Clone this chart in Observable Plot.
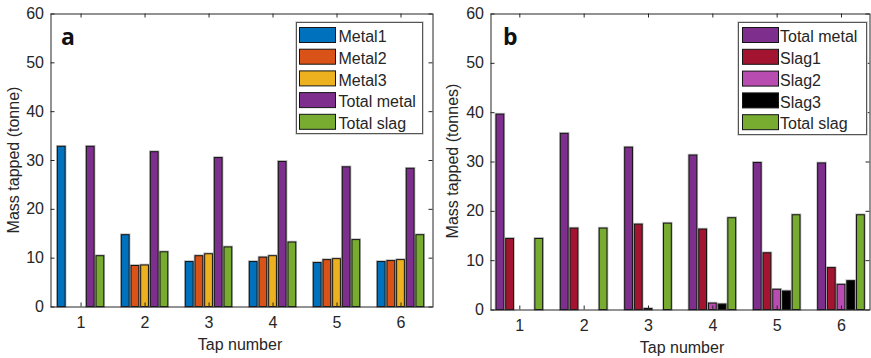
<!DOCTYPE html>
<html>
<head>
<meta charset="utf-8">
<script src="https://cdn.jsdelivr.net/npm/d3@7"></script>
<script src="https://cdn.jsdelivr.net/npm/@observablehq/plot@0.6"></script>
<style>
  html, body { margin: 0; padding: 0; background: white; }
  #fig { position: relative; width: 871px; height: 358px; overflow: hidden; }
  .panel { position: absolute; top: 0; }
  #overlay { position: absolute; left: 0; top: 0; pointer-events: none; }
</style>
</head>
<body>
<div id="fig"></div>
<script>
// ---------- data ----------
const taps = [1, 2, 3, 4, 5, 6];
const yTicks = [0, 10, 20, 30, 40, 50, 60];

// panel a
const seriesA = ["Metal1", "Metal2", "Metal3", "Total metal", "Total slag"];
const colorsA = ["#0072BD", "#D95319", "#EDB120", "#7E2F8E", "#77AC30"];
const metal1 = [32.8, 14.7, 9.2, 9.2, 9.0, 9.2];
const metal2 = [0, 8.4, 10.4, 10.1, 9.6, 9.4];
const metal3 = [0, 8.5, 10.8, 10.4, 9.8, 9.6];
const totalMetalA = [32.8, 31.7, 30.5, 29.7, 28.6, 28.3];
const totalSlagA = [10.4, 11.2, 12.2, 13.2, 13.7, 14.7];

// panel b
const seriesB = ["Total metal", "Slag1", "Slag2", "Slag3", "Total slag"];
const colorsB = ["#7E2F8E", "#A2142F", "#B94CB0", "#000000", "#77AC30"];
const totalMetalB = [39.6, 35.7, 32.9, 31.3, 29.8, 29.7];
const slag1 = [14.4, 16.5, 17.3, 16.3, 11.5, 8.5];
const slag2 = [0, 0, 0.2, 1.3, 4.1, 5.1];
const slag3 = [0, 0, 0, 1.1, 3.75, 5.85];
const totalSlagB = [14.4, 16.5, 17.5, 18.6, 19.2, 19.2];

function rows(series, values) {
  return series.flatMap((s, k) => taps.map((t, i) => ({tap: t, k, series: s, value: values[k][i]})));
}
const dataA = rows(seriesA, [metal1, metal2, metal3, totalMetalA, totalSlagA]);
const dataB = rows(seriesB, [totalMetalB, slag1, slag2, slag3, totalSlagB]);

// ---------- panels ----------
const FONT = "'Liberation Sans', Arial, Helvetica, sans-serif";
const INK = "#262626";

function panel({data, series, colors, width, ml, mr, mt, mb, xdom}) {
  const slot = 0.151, bw = 0.121;
  const iw = width - ml - mr, ih = 358 - mt - mb;
  const tx = 4 * (xdom[1] - xdom[0]) / iw;
  const ty = 4 * 60 / ih;
  const x1 = d => d.tap + (d.k - 2) * slot - bw / 2;
  const x2 = d => d.tap + (d.k - 2) * slot + bw / 2;
  return Plot.plot({
    width, height: 358,
    marginLeft: ml, marginRight: mr, marginTop: mt, marginBottom: mb,
    style: {fontFamily: FONT, fontSize: "16px", color: INK, background: "white", overflow: "visible"},
    x: {domain: xdom, ticks: taps, tickFormat: d => String(d), tickSize: 0, tickPadding: 10, label: null},
    y: {domain: [0, 60], ticks: yTicks, tickSize: 0, tickPadding: 7, label: null},
    color: {domain: series, range: colors},
    marks: [
      Plot.rect(data, {x1, x2, y1: 0, y2: "value", fill: "none", stroke: "#9a9a9a", strokeWidth: 2.6, strokeOpacity: 0.7}),
      Plot.rect(data, {x1, x2, y1: 0, y2: "value", fill: "series", stroke: "#141414", strokeWidth: 1}),
      Plot.ruleY(yTicks, {y: d => d, x1: xdom[0], x2: xdom[0] + tx, stroke: INK}),
      Plot.ruleY(yTicks, {y: d => d, x1: xdom[1] - tx, x2: xdom[1], stroke: INK}),
      Plot.ruleX(taps, {x: d => d, y1: 0, y2: ty, stroke: INK}),
      Plot.ruleX(taps, {x: d => d, y1: 60 - ty, y2: 60, stroke: INK}),
      Plot.frame({stroke: INK})
    ]
  });
}

const fig = document.getElementById("fig");

const pa = panel({data: dataA, series: seriesA, colors: colorsA, width: 440,
  ml: 50.5, mr: 7.5, mt: 13.5, mb: 51.5, xdom: [0.53, 6.5]});
const da = document.createElement("div"); da.className = "panel"; da.style.left = "0px";
da.appendChild(pa); fig.appendChild(da);

const pb = panel({data: dataB, series: seriesB, colors: colorsB, width: 431,
  ml: 50.5, mr: 1.5, mt: 13.5, mb: 48.5, xdom: [0.552, 6.443]});
const db = document.createElement("div"); db.className = "panel"; db.style.left = "440px";
db.appendChild(pb); fig.appendChild(db);

// ---------- overlay: labels, legends ----------
const svg = d3.select(fig).append("svg").attr("id", "overlay")
  .attr("width", 871).attr("height", 358)
  .style("font-family", FONT).style("font-size", "16px");

function axisLabels(xc, xBase, yLabel, ylx, yly) {
  svg.append("text").attr("x", xc).attr("y", xBase).attr("text-anchor", "middle")
    .attr("fill", INK).text("Tap number");
  svg.append("text").attr("transform", `translate(${ylx},${yly}) rotate(-90)`)
    .attr("text-anchor", "middle").attr("fill", INK).text(yLabel);
}
axisLabels(240, 350, "Mass tapped (tonne)", 18.8, 160);
axisLabels(682, 353, "Mass tapped (tonnes)", 458.2, 161);

function letter(t, x, y) {
  svg.append("text").attr("x", x).attr("y", y)
    .style("font-family", "'Open Sans', 'DejaVu Sans', sans-serif")
    .style("font-weight", 700).style("font-size", "23px")
    .attr("fill", "#111").text(t);
}
letter("a", 61, 45);
letter("b", 503, 45);

function legend({series, colors, bx, by, bw, bh, sx, sy0, pitch, tx}) {
  const g = svg.append("g");
  g.append("rect").attr("x", bx).attr("y", by).attr("width", bw).attr("height", bh)
    .attr("fill", "white").attr("stroke", "#c8c8c8").attr("stroke-width", 2.5);
  g.append("rect").attr("x", bx).attr("y", by).attr("width", bw).attr("height", bh)
    .attr("fill", "white").attr("stroke", "#555").attr("stroke-width", 1);
  series.forEach((s, i) => {
    const top = sy0 + i * pitch;
    g.append("rect").attr("x", sx).attr("y", top).attr("width", 36).attr("height", 15)
      .attr("fill", colors[i]).attr("stroke", "#141414").attr("stroke-width", 1);
    g.append("text").attr("x", tx).attr("y", top + 14.7).attr("fill", INK).text(s);
  });
}
legend({series: seriesA, colors: colorsA, bx: 296.5, by: 22.5, bw: 126, bh: 111,
  sx: 299.5, sy0: 27.5, pitch: 21.7, tx: 338.5});
legend({series: seriesB, colors: colorsB, bx: 738.5, by: 22.5, bw: 128, bh: 112,
  sx: 742.5, sy0: 27.5, pitch: 21.8, tx: 780});
</script>
</body>
</html>
